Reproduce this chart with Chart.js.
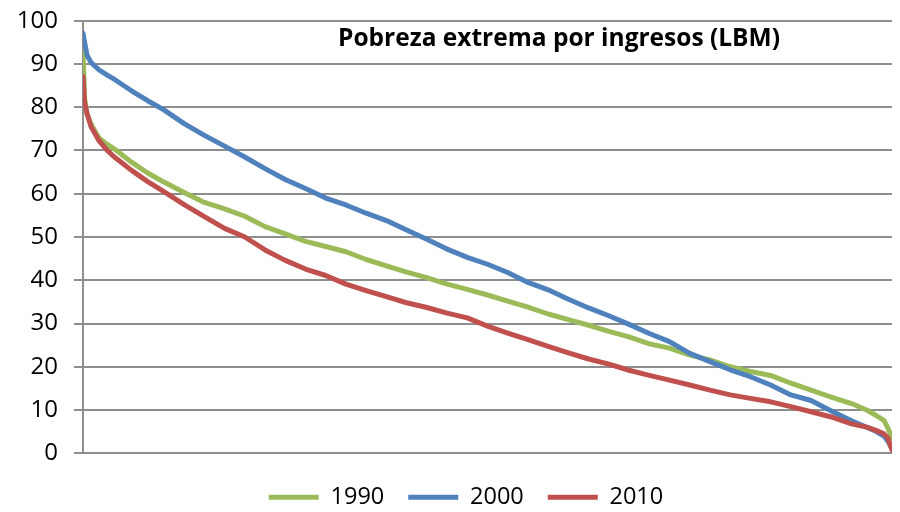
<!DOCTYPE html>
<html>
<head>
<meta charset="utf-8">
<style>
  html, body { margin: 0; padding: 0; background: #ffffff; }
  #wrap { width: 900px; height: 512px; }
</style>
<script src="https://cdn.jsdelivr.net/npm/chart.js@4.4.1/dist/chart.umd.min.js"></script>
</head>
<body>
<div id="wrap"><canvas id="povertyChart" width="900" height="512"></canvas></div>
<script>
// Position of each municipality in the sorted ranking (0 = poorest, 100 = least poor)
const rank = [0, 0.2, 0.5, 1, 2, 3, 4, 6, 8, 10, 12.5, 15, 17.5, 20, 22.5, 25, 27.5, 30,
  32.5, 35, 37.5, 40, 42.5, 45, 47.5, 50, 52.5, 55, 57.5, 60, 62.5, 65, 67.5, 70, 72.5,
  75, 77.5, 80, 82.5, 85, 87.5, 90, 92.5, 95, 97, 98, 99, 99.5, 100];

const seriesNames = ["1990", "2000", "2010"];

const pobreza1990 = [93.2, 82.0, 78.5, 76.0, 72.8, 71.4, 70.2, 67.3, 64.8, 62.7, 60.3, 58.0,
  56.5, 54.8, 52.4, 50.7, 49.0, 47.8, 46.6, 44.8, 43.3, 41.9, 40.6, 39.1, 37.9, 36.6, 35.2,
  33.8, 32.2, 30.9, 29.6, 28.2, 26.9, 25.3, 24.3, 22.7, 21.6, 20.0, 18.9, 18.0, 16.2, 14.6,
  13.0, 11.5, 9.9, 8.8, 7.6, 5.8, 3.5];

const pobreza2000 = [97.1, 95.0, 92.0, 90.3, 88.6, 87.4, 86.3, 83.8, 81.5, 79.4, 76.2, 73.5,
  71.0, 68.5, 65.8, 63.3, 61.2, 59.0, 57.4, 55.5, 53.8, 51.6, 49.5, 47.2, 45.3, 43.7, 41.8,
  39.5, 37.8, 35.6, 33.6, 31.8, 29.8, 27.7, 25.8, 23.1, 21.2, 19.3, 17.7, 15.8, 13.5, 12.2,
  9.8, 7.5, 5.9, 5.1, 4.0, 2.8, 1.0];

const pobreza2010 = [87.1, 81.0, 78.5, 75.5, 72.2, 70.0, 68.3, 65.4, 62.8, 60.5, 57.5, 54.7,
  52.0, 50.0, 47.0, 44.6, 42.6, 41.1, 39.1, 37.6, 36.2, 34.8, 33.7, 32.4, 31.3, 29.4, 27.8,
  26.3, 24.7, 23.2, 21.8, 20.6, 19.2, 18.0, 16.9, 15.8, 14.6, 13.5, 12.7, 11.9, 10.8, 9.6,
  8.4, 6.8, 6.0, 5.3, 4.5, 3.5, 0.8];

const yTicks = [0, 10, 20, 30, 40, 50, 60, 70, 80, 90, 100];

const chartTitle = "Pobreza extrema por ingresos (LBM)";

const FONT = "'Open Sans', 'Liberation Sans', sans-serif";
const GRID = "#8e8e8e";

const toPoints = (values) => rank.map((x, i) => ({ x, y: values[i] }));

// Title sits inside the plot area, right of centre
const insideTitle = {
  id: "insideTitle",
  afterDraw(chart) {
    const { ctx, chartArea } = chart;
    ctx.save();
    ctx.font = `bold 24.5px ${FONT}`;
    ctx.fillStyle = "#000000";
    ctx.textAlign = "center";
    ctx.textBaseline = "alphabetic";
    ctx.fillText(chartTitle, chartArea.left + 476, chartArea.top + 25.5);
    ctx.restore();
  },
};

// legend is centred a little right of the canvas middle
const legendNudge = {
  id: "legendNudge",
  afterLayout(chart) {
    if (chart.legend) chart.legend.left += 40;
  },
};

const makeDataset = (label, values, color, order) => ({
  label,
  data: toPoints(values),
  borderColor: color,
  backgroundColor: color,
  borderWidth: 5,
  borderCapStyle: "round",
  borderJoinStyle: "round",
  pointRadius: 0,
  tension: 0,
  order,
});

new Chart(document.getElementById("povertyChart"), {
  type: "line",
  data: {
    datasets: [
      makeDataset(seriesNames[0], pobreza1990, "#9bbb59", 2),
      makeDataset(seriesNames[1], pobreza2000, "#4f81bd", 1),
      makeDataset(seriesNames[2], pobreza2010, "#c0504d", 0),
    ],
  },
  options: {
    responsive: false,
    devicePixelRatio: 1,
    animation: false,
    layout: { autoPadding: false, padding: { left: 0, right: 8, top: 20.7, bottom: -7 } },
    plugins: {
      tooltip: { enabled: false },
      legend: {
        position: "bottom",
        labels: {
          usePointStyle: true,
          pointStyle: "line",
          pointStyleWidth: 50,
          boxHeight: 22,
          padding: 24,
          color: "#000000",
          font: { family: FONT, size: 23.5 },
          sort: (a, b) => a.datasetIndex - b.datasetIndex,
        },
      },
    },
    scales: {
      x: {
        type: "linear",
        min: 0,
        max: 100,
        grid: { display: false },
        border: { display: false },
        ticks: { display: false },
        afterFit: (scale) => { scale.height = 8.2; },
      },
      y: {
        min: 0,
        max: 100,
        afterBuildTicks: (scale) => { scale.ticks = yTicks.map((v) => ({ value: v })); },
        afterFit: (scale) => {
          scale.width = 83;
          scale.paddingTop = 0;
          scale.paddingBottom = 0;
        },
        border: { display: true, color: GRID, width: 2 },
        grid: { color: GRID, lineWidth: 2, tickLength: 9 },
        ticks: {
          padding: 16,
          color: "#000000",
          font: { family: FONT, size: 24 },
        },
      },
    },
  },
  plugins: [insideTitle, legendNudge],
});
</script>
</body>
</html>
